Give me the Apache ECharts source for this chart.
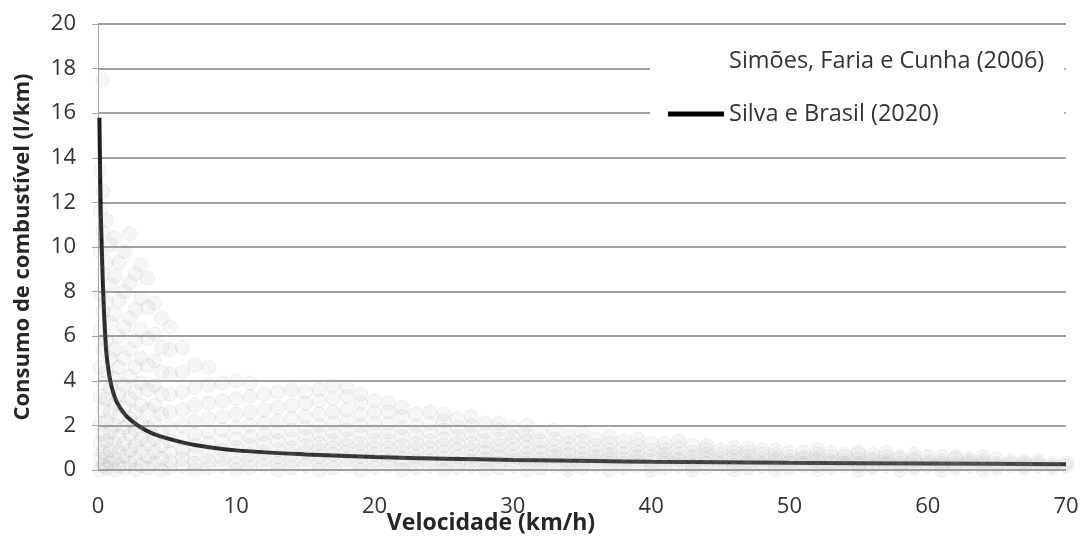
<!DOCTYPE html>
<html>
<head>
<meta charset="utf-8">
<script src="https://cdn.jsdelivr.net/npm/echarts@6/dist/echarts.min.js"></script>
<style>
html,body{margin:0;padding:0;background:#fff;}
#chart{width:1083px;height:537px;}
</style>
</head>
<body>
<div id="chart"></div>
<script>
// Series names
const seriesNames = ['Simões, Faria e Cunha (2006)', 'Silva e Brasil (2020)'];
const xTicks = [0, 10, 20, 30, 40, 50, 60, 70];
const yTicks = [0, 2, 4, 6, 8, 10, 12, 14, 16, 18, 20];

// Silva e Brasil (2020) curve: [speed km/h, consumption l/km]
const silvaCurve = [
  [0.1, 15.8], [0.15, 13.5], [0.2, 11.6], [0.27, 10.0], [0.35, 8.4], [0.45, 6.9],
  [0.6, 5.3], [0.8, 4.3], [1.0, 3.7], [1.35, 3.05], [2.0, 2.45], [3.0, 1.95],
  [4.0, 1.62], [5.4, 1.35], [7.0, 1.12], [10.0, 0.88], [15.0, 0.70], [20.0, 0.58],
  [25.0, 0.51], [30.0, 0.45], [36.0, 0.40], [40.0, 0.37], [50.0, 0.32], [60.0, 0.29], [70.0, 0.26]
];

// Simões, Faria e Cunha (2006) scatter cloud, read as columns: [speed, [consumptions]]
const simoesLow = [
  [0.15, [0.0,0.5,1.2,2.1,3.3,4.6,6.2,7.9,9.8,11.6,13.4]],
  [0.35, [0.2,0.8,1.6,2.7,3.9,5.4,7.1,8.8,10.7,12.5,17.5]],
  [0.6,  [0.1,0.6,1.3,2.2,3.2,4.4,5.8,7.5,9.3,11.2]],
  [0.9,  [0.3,0.9,1.7,2.6,3.7,5.0,6.6,8.3,10.1]],
  [1.2,  [0.0,0.5,1.2,2.0,3.0,4.1,5.4,7.0,8.7,10.4]],
  [1.5,  [0.2,0.8,1.5,2.4,3.4,4.6,6.0,7.6,9.3]],
  [1.9,  [0.1,0.6,1.2,1.9,2.8,3.8,5.0,6.4,8.0,9.8]],
  [2.3,  [0.3,0.9,1.6,2.3,3.2,4.2,5.4,6.8,8.4,10.6]],
  [2.7,  [0.0,0.5,1.1,1.8,2.6,3.5,4.6,5.8,7.2,8.8]],
  [3.1,  [0.2,0.8,1.4,2.1,2.9,3.9,5.0,6.3,7.7,9.2]],
  [3.6,  [0.1,0.6,1.2,1.9,2.7,3.6,4.7,5.9,7.3,8.6]],
  [4.1,  [0.3,0.8,1.4,2.1,2.9,3.8,4.9,6.1,7.5]],
  [4.6,  [0.0,0.5,1.1,1.7,2.5,3.4,4.4,5.5,6.8]]
];
const simoesMid = [
  [5.2,  [0.1,0.4,0.8,1.3,1.9,2.6,3.4,4.3,5.4,6.4]],
  [6.1,  [0.2,0.5,0.9,1.4,2.0,2.7,3.5,4.4,5.5]],
  [7.0,  [0.0,0.3,0.7,1.1,1.6,2.2,2.9,3.7,4.7]],
  [8.0,  [0.1,0.4,0.8,1.2,1.7,2.3,3.0,3.8,4.6]],
  [9.0,  [0.2,0.5,0.9,1.3,1.8,2.4,3.1,3.9]],
  [10.0, [0.0,0.3,0.6,1.0,1.4,1.9,2.5,3.2,4.0]],
  [11.0, [0.1,0.4,0.7,1.1,1.5,2.0,2.6,3.3,3.9]],
  [12.0, [0.2,0.5,0.8,1.2,1.6,2.1,2.7,3.4]],
  [13.0, [0.0,0.3,0.6,0.9,1.3,1.7,2.2,2.8,3.5]],
  [14.0, [0.1,0.4,0.7,1.0,1.4,1.8,2.3,2.9,3.6]],
  [15.0, [0.2,0.5,0.8,1.1,1.5,1.9,2.4,3.0,3.5]],
  [16.0, [0.0,0.3,0.6,0.9,1.2,1.6,2.0,2.5,3.1,3.6]],
  [17.0, [0.1,0.4,0.7,1.0,1.3,1.7,2.1,2.6,3.2,3.8]],
  [18.0, [0.2,0.5,0.8,1.1,1.4,1.8,2.2,2.7,3.3,3.7]],
  [19.0, [0.0,0.3,0.6,0.9,1.2,1.6,2.0,2.5,3.0,3.4]],
  [20.0, [0.1,0.4,0.7,1.0,1.3,1.7,2.1,2.6,3.1]]
];
const simoesFar = [
  [21, [0.2,0.4,0.7,1.0,1.3,1.7,2.1,2.6,3.0]],
  [22, [0.0,0.3,0.5,0.8,1.1,1.5,1.9,2.4,2.8]],
  [23, [0.1,0.4,0.6,0.9,1.2,1.6,2.0,2.5]],
  [24, [0.2,0.4,0.7,1.0,1.3,1.7,2.1,2.6]],
  [25, [0.0,0.3,0.5,0.8,1.1,1.4,1.8,2.2,2.5]],
  [26, [0.1,0.3,0.6,0.9,1.2,1.5,1.9,2.3]],
  [27, [0.2,0.4,0.6,0.9,1.2,1.6,2.0,2.4]],
  [28, [0.0,0.3,0.5,0.8,1.0,1.3,1.7,2.1]],
  [29, [0.1,0.3,0.6,0.8,1.1,1.4,1.8,2.1]],
  [30, [0.2,0.4,0.6,0.9,1.2,1.5,1.9]],
  [31, [0.0,0.3,0.5,0.7,1.0,1.3,1.6,2.0]],
  [32, [0.1,0.3,0.5,0.8,1.0,1.3,1.7]],
  [33, [0.2,0.4,0.6,0.8,1.1,1.4,1.8]],
  [34, [0.0,0.2,0.4,0.7,0.9,1.2,1.5]],
  [35, [0.1,0.3,0.5,0.7,1.0,1.3,1.7]],
  [36, [0.2,0.4,0.6,0.8,1.1,1.4]],
  [37, [0.0,0.3,0.5,0.7,0.9,1.2,1.5]],
  [38, [0.1,0.3,0.5,0.7,1.0,1.3]],
  [39, [0.2,0.4,0.6,0.8,1.1,1.4]],
  [40, [0.0,0.2,0.4,0.6,0.9,1.2]],
  [41, [0.1,0.3,0.5,0.7,0.9,1.2]],
  [42, [0.2,0.4,0.5,0.7,1.0,1.3]],
  [43, [0.0,0.2,0.4,0.6,0.8,1.1]],
  [44, [0.1,0.3,0.5,0.7,0.9,1.1]],
  [45, [0.2,0.3,0.5,0.7,0.9]]
];
const simoesTail = [
  [46, [0.0,0.2,0.4,0.6,0.8,1.0]],
  [47, [0.1,0.3,0.4,0.6,0.8,1.0]],
  [48, [0.2,0.3,0.5,0.7,0.9]],
  [49, [0.0,0.2,0.4,0.5,0.7,0.9]],
  [50, [0.1,0.3,0.4,0.6,0.8]],
  [51, [0.2,0.3,0.5,0.6,0.8]],
  [52, [0.0,0.2,0.4,0.5,0.7,0.9]],
  [53, [0.1,0.3,0.4,0.6,0.8]],
  [54, [0.2,0.3,0.4,0.6,0.7]],
  [55, [0.0,0.2,0.3,0.5,0.7,0.8]],
  [56, [0.1,0.2,0.4,0.5,0.7]],
  [57, [0.2,0.3,0.4,0.6,0.8]],
  [58, [0.0,0.2,0.3,0.5,0.6]],
  [59, [0.1,0.2,0.4,0.5,0.7]],
  [60, [0.2,0.3,0.4,0.6]],
  [61, [0.0,0.2,0.3,0.4,0.6]],
  [62, [0.1,0.2,0.3,0.5,0.6]],
  [63, [0.2,0.3,0.4,0.5]],
  [64, [0.0,0.2,0.3,0.4,0.6]],
  [65, [0.1,0.2,0.3,0.5]],
  [66, [0.2,0.3,0.4]],
  [67, [0.1,0.2,0.3,0.4]],
  [68, [0.2,0.3,0.4]],
  [69, [0.1,0.2,0.3]],
  [70, [0.2,0.3]]
];

const simoesPoints = [];
[simoesLow, simoesMid, simoesFar, simoesTail].forEach(function (band) {
  band.forEach(function (col) {
    col[1].forEach(function (y) { simoesPoints.push([col[0], y]); });
  });
});

const chart = echarts.init(document.getElementById('chart'));
const FONT = 'Open Sans';
chart.setOption({
  animation: false,
  backgroundColor: '#fff',
  textStyle: { fontFamily: FONT },
  grid: { left: 98, right: 17, top: 24, bottom: 67, outerBoundsMode: 'none', containLabel: false },
  legend: {
    orient: 'vertical',
    left: 650,
    top: 31,
    padding: [18, 20, 18, 17],
    backgroundColor: '#fff',
    itemWidth: 56,
    itemHeight: 5,
    itemGap: 29,
    textStyle: { fontFamily: FONT, fontSize: 23.5, color: '#333' },
    data: [
      { name: seriesNames[0], icon: 'rect', itemStyle: { opacity: 0 } },
      { name: seriesNames[1], icon: 'rect', itemStyle: { color: '#000', opacity: 1 } }
    ]
  },
  xAxis: {
    type: 'value',
    min: 0, max: 70, interval: 10,
    name: 'Velocidade (km/h)',
    nameLocation: 'middle',
    nameGap: 42,
    nameMoveOverlap: false,
    nameTextStyle: { fontFamily: FONT, fontSize: 23, fontWeight: 'bold', color: '#262626', padding: [0, 182, 0, 0] },
    axisLine: { show: false },
    axisTick: { show: false },
    splitLine: { show: false },
    axisLabel: { fontFamily: FONT, fontSize: 22, color: '#333', margin: 26,
      formatter: function (v) { return xTicks.indexOf(v) >= 0 ? String(v) : ''; } }
  },
  yAxis: {
    type: 'value',
    min: 0, max: 20, interval: 2,
    name: 'Consumo de combustível (l/km)',
    nameLocation: 'middle',
    nameGap: 64,
    nameMoveOverlap: false,
    nameTextStyle: { fontFamily: FONT, fontSize: 22, fontWeight: 'bold', color: '#262626' },
    axisLine: { show: true, lineStyle: { color: '#a6a6a6', width: 1 } },
    axisTick: { show: true, length: 6, lineStyle: { color: '#a6a6a6' } },
    splitLine: { show: true, lineStyle: { color: '#a0a0a0', width: 2 } },
    axisLabel: { fontFamily: FONT, fontSize: 22, color: '#333', margin: 22,
      formatter: function (v) { return yTicks.indexOf(v) >= 0 ? String(v) : ''; } }
  },
  series: [
    {
      name: seriesNames[1],
      type: 'line',
      data: silvaCurve,
      smooth: 0.3,
      symbol: 'none',
      z: 2,
      lineStyle: { color: '#1e1e1e', width: 4 },
      itemStyle: { color: '#000' }
    },
    {
      name: seriesNames[0],
      type: 'scatter',
      data: simoesPoints,
      symbol: 'circle',
      symbolSize: 14,
      z: 3,
      itemStyle: { color: 'rgba(165,165,165,0.13)', borderColor: 'rgba(150,150,150,0.16)', borderWidth: 1 }
    }
  ]
});
</script>
</body>
</html>
